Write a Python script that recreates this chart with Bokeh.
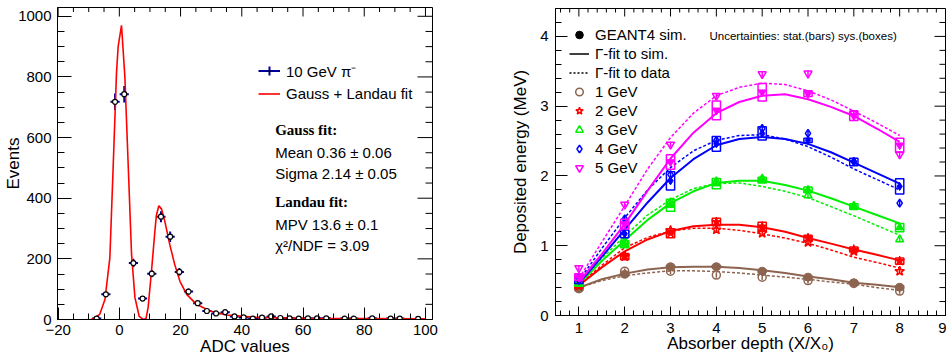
from math import pi
from bokeh.plotting import figure
from bokeh.models import Range1d, SingleIntervalTicker, Label, Legend, LegendItem
from bokeh.layouts import row, column
from bokeh.embed import file_html
from bokeh.resources import INLINE

FONT = "Liberation Sans"
SERIF = "Liberation Serif"
NAVY = "#000099"
NAN = float("nan")

# ---------------- left panel data ----------------
adc_x = [-7.4, -4.4, -1.4, 1.6, 4.6, 7.6, 10.6, 13.6, 16.6, 19.6, 22.6, 25.6, 28.6, 31.6,
         34.6, 37.6, 40.6, 43.6, 46.6, 49.6, 52.6, 55.6, 58.6, 61.6, 64.6, 67.6, 73.6,
         76.6, 82.6, 88.6, 91.6, 97.6]
adc_counts = [3, 83, 718, 743, 186, 69, 151, 339, 273, 157, 92, 54, 28, 20,
              24, 10, 7, 3, 6, 10, 5, 4, 3, 4, 4, 4, 3, 3, 4, 3, 3, 2]
adc_err = [2, 9, 27, 27, 14, 8, 12, 18, 17, 13, 10, 7, 5, 4,
           5, 3, 3, 2, 2, 3, 2, 2, 2, 2, 2, 2, 2, 2, 2, 2, 2, 1]
bin_half = 1.5
fit_x = [-9.5, -9.1, -6.4, -4.7, -3.1, -2.0, -0.93, -0.39, 0.71, 1.8, 2.9, 4.0, 5.1, 6.5,
         7.8, 8.7, 9.4, 10.5, 11.6, 12.1, 12.9, 13.8, 14.9, 16.5, 18.1, 19.8, 22.0,
         25.2, 29.6, 35.0, 44.8, 60.0, 80.0, 100.0]
fit_y = [0, 0, 17, 66, 203, 508, 813, 900, 970, 802, 508, 213, 72, 10,
         0, 3, 39, 159, 290, 344, 375, 364, 322, 246, 181, 126, 83,
         50, 28, 15, 7, 4, 3, 2]

# ---------------- right panel data ----------------
depth = [1, 2, 3, 4, 5, 6, 7, 8]
energy_labels = ["1 GeV", "2 GeV", "3 GeV", "4 GeV", "5 GeV"]
energy_colors = ["#8c6450", "#ff0000", "#00ee00", "#0000ff", "#ff00ff"]
energy_markers = ["circle", "star", "triangle", "diamond", "inverted_triangle"]

sim_1 = [0.38, 0.59, 0.70, 0.70, 0.635, 0.55, 0.47, 0.405]
sim_2 = [0.42, 0.845, 1.18, 1.34, 1.275, 1.11, 0.945, 0.78]
sim_3 = [0.45, 1.02, 1.58, 1.89, 1.94, 1.80, 1.56, 1.26]
sim_4 = [0.50, 1.17, 1.93, 2.46, 2.61, 2.51, 2.20, 1.85]
sim_5 = [0.55, 1.31, 2.20, 2.94, 3.20, 3.18, 2.86, 2.44]

data_1 = [0.42, 0.635, 0.635, 0.58, 0.55, 0.50, 0.46, 0.35]
data_2 = [0.45, 0.85, 1.22, 1.23, 1.18, 1.05, 0.92, 0.635]
data_3 = [0.48, 1.065, 1.62, 1.92, 1.96, 1.72, 1.57, 1.09]
data_4 = [0.55, 1.385, 2.02, 2.51, 2.68, 2.61, 2.21, 1.61]
data_5 = [0.68, 1.59, 2.45, 3.15, 3.46, 3.47, 2.90, 2.31]

sys_1 = [0.02, 0.02, 0.02, 0.02, 0.02, 0.02, 0.02, 0.02]
sys_2 = [0.03, 0.045, 0.065, 0.055, 0.06, 0.04, 0.035, 0.045]
sys_3 = [0.03, 0.05, 0.085, 0.075, 0.04, 0.04, 0.04, 0.06]
sys_4 = [0.04, 0.055, 0.13, 0.105, 0.095, 0.03, 0.055, 0.11]
sys_5 = [0.05, 0.07, 0.105, 0.135, 0.125, 0.04, 0.065, 0.10]

stat_sim = [0.03, 0.03, 0.03, 0.03, 0.03, 0.03, 0.03, 0.03]
stat_data = [0.04, 0.04, 0.04, 0.04, 0.04, 0.04, 0.04, 0.04]

fit_depth = [1.0, 1.5, 2.0, 2.5, 3.0, 3.5, 4.0, 4.5, 5.0, 5.5, 6.0, 6.5, 7.0, 7.5, 8.0]
fitsim_1 = [0.40, 0.52, 0.60, 0.66, 0.69, 0.70, 0.70, 0.68, 0.65, 0.61, 0.56, 0.52, 0.47, 0.44, 0.405]
fitsim_2 = [0.43, 0.69, 0.92, 1.09, 1.21, 1.28, 1.30, 1.30, 1.265, 1.20, 1.11, 1.03, 0.945, 0.87, 0.79]
fitsim_3 = [0.45, 0.78, 1.08, 1.37, 1.61, 1.78, 1.90, 1.93, 1.93, 1.87, 1.79, 1.68, 1.56, 1.44, 1.32]
fitsim_4 = [0.46, 0.84, 1.23, 1.62, 1.97, 2.24, 2.44, 2.53, 2.56, 2.53, 2.46, 2.34, 2.19, 2.04, 1.89]
fitsim_5 = [0.48, 0.88, 1.31, 1.79, 2.25, 2.62, 2.90, 3.06, 3.15, 3.17, 3.10, 2.99, 2.86, 2.68, 2.49]

fitdata_1 = [0.40, 0.50, 0.57, 0.61, 0.64, 0.64, 0.63, 0.61, 0.58, 0.55, 0.52, 0.48, 0.45, 0.40, 0.36]
fitdata_2 = [0.44, 0.72, 0.97, 1.12, 1.21, 1.25, 1.25, 1.22, 1.17, 1.11, 1.035, 0.94, 0.835, 0.76, 0.68]
fitdata_3 = [0.47, 0.82, 1.14, 1.44, 1.66, 1.82, 1.89, 1.90, 1.85, 1.78, 1.69, 1.56, 1.43, 1.29, 1.15]
fitdata_4 = [0.50, 0.96, 1.40, 1.80, 2.12, 2.36, 2.51, 2.58, 2.59, 2.53, 2.42, 2.27, 2.10, 1.95, 1.80]
fitdata_5 = [0.53, 1.05, 1.57, 2.10, 2.55, 2.90, 3.15, 3.27, 3.33, 3.31, 3.22, 3.09, 2.93, 2.76, 2.58]

sims = [sim_1, sim_2, sim_3, sim_4, sim_5]
datas = [data_1, data_2, data_3, data_4, data_5]
syss = [sys_1, sys_2, sys_3, sys_4, sys_5]
fitsims = [fitsim_1, fitsim_2, fitsim_3, fitsim_4, fitsim_5]
fitdatas = [fitdata_1, fitdata_2, fitdata_3, fitdata_4, fitdata_5]

# tick positions for the mirrored (top / right) frame ticks
left_x_major = [-20, 0, 20, 40, 60, 80, 100]
left_x_minor = [v for v in range(-20, 101, 5) if v % 20]
left_y_major = [0, 200, 400, 600, 800, 1000]
left_y_minor = [v for v in range(0, 1001, 50) if v % 200]
right_x_major = [1, 2, 3, 4, 5, 6, 7, 8, 9]
right_x_minor = [round(0.6 + 0.2 * i, 1) for i in range(43) if round(0.6 + 0.2 * i, 1) % 1]
right_y_major = [0, 1, 2, 3, 4]
right_y_minor = [round(0.2 * i, 1) for i in range(23) if round(0.2 * i, 1) % 1]


def style_axis(ax, ticker, maj, mnr, size, standoff, title, title_standoff):
    ax.ticker = ticker
    ax.major_tick_in = maj
    ax.major_tick_out = 0
    ax.minor_tick_in = mnr
    ax.minor_tick_out = 0
    ax.axis_line_color = "black"
    ax.major_tick_line_color = "black"
    ax.minor_tick_line_color = "black"
    ax.major_label_text_font = FONT
    ax.major_label_text_font_size = size
    ax.major_label_text_color = "black"
    ax.major_label_standoff = standoff
    ax.axis_label = title
    ax.axis_label_text_font = FONT
    ax.axis_label_text_font_size = "17px"
    ax.axis_label_text_font_style = "normal"
    ax.axis_label_text_color = "black"
    ax.axis_label_standoff = title_standoff


def mirror_ticks(p, xr, yr, xmaj, xmin, ymaj, ymin, top_len, right_len):
    # ticks on the top and right frame edges; half of each dash is clipped by the frame
    p.scatter(x=xmaj, y=[yr.end] * len(xmaj), marker="dash", angle=pi / 2,
              size=2 * top_len[0], line_color="black", line_width=1)
    p.scatter(x=xmin, y=[yr.end] * len(xmin), marker="dash", angle=pi / 2,
              size=2 * top_len[1], line_color="black", line_width=1)
    p.scatter(x=[xr.end] * len(ymaj), y=ymaj, marker="dash", angle=0,
              size=2 * right_len[0], line_color="black", line_width=1)
    p.scatter(x=[xr.end] * len(ymin), y=ymin, marker="dash", angle=0,
              size=2 * right_len[1], line_color="black", line_width=1)


def lab(p, text, x, y, size="15px", font=FONT, style="normal"):
    p.add_layout(Label(x=x, y=y, text=text, text_font=font, text_font_size=size,
                       text_font_style=style, text_color="black", text_align="left",
                       text_baseline="middle"))


# ================= left figure =================
xr1 = Range1d(-20.2, 102.3)
yr1 = Range1d(0, 1029)
p1 = figure(width=470, height=358, x_range=xr1, y_range=yr1,
            output_backend="svg", toolbar_location=None,
            min_border_left=57, min_border_right=38, min_border_top=7, min_border_bottom=36)
p1.grid.visible = False
p1.outline_line_color = "black"
xt1 = SingleIntervalTicker(interval=20, num_minor_ticks=4)
yt1 = SingleIntervalTicker(interval=200, num_minor_ticks=4)
style_axis(p1.xaxis[0], xt1, 12, 6, "15px", 5, "ADC values", -1)
style_axis(p1.yaxis[0], yt1, 14, 7, "15px", 6, "Events", -8)
mirror_ticks(p1, xr1, yr1, left_x_major, left_x_minor, left_y_major, left_y_minor,
             (9, 4.5), (15, 7))

p1.segment(x0=adc_x, x1=adc_x,
           y0=[c - e for c, e in zip(adc_counts, adc_err)],
           y1=[c + e for c, e in zip(adc_counts, adc_err)],
           line_color=NAVY, line_width=2)
p1.segment(x0=[x - bin_half for x in adc_x], x1=[x + bin_half for x in adc_x],
           y0=adc_counts, y1=adc_counts, line_color=NAVY, line_width=2)
fit_r = p1.line(fit_x, fit_y, line_color="#ff0000", line_width=1.6)
p1.scatter(adc_x, adc_counts, marker="circle", size=5, line_color="black",
           fill_color="white", line_width=1.2)

lg_h = p1.line(x=[NAN], y=[NAN], line_color=NAVY, line_width=2)
lg_v = p1.scatter(x=[NAN], y=[NAN], marker="cross", size=10, line_color=NAVY, line_width=2)
lg_c = p1.scatter(x=[NAN], y=[NAN], marker="dot", size=10, line_color="black",
                  fill_color="black")
leg1 = Legend(items=[LegendItem(label="10 GeV π⁻", renderers=[lg_h, lg_v, lg_c]),
                     LegendItem(label="Gauss + Landau fit", renderers=[fit_r])],
              location=(201, 214), margin=0, padding=0, spacing=0,
              glyph_width=22, glyph_height=23, label_height=23, label_standoff=6,
              label_text_font=FONT, label_text_font_size="15px", label_text_color="black",
              border_line_color=None, background_fill_alpha=0)
p1.add_layout(leg1)

lab(p1, "Gauss fit:", 50.9, 624, font=SERIF, style="bold")
lab(p1, "Mean 0.36 ± 0.06", 50.9, 552)
lab(p1, "Sigma 2.14 ± 0.05", 50.9, 480)
lab(p1, "Landau fit:", 50.9, 386, font=SERIF, style="bold")
lab(p1, "MPV 13.6 ± 0.1", 50.9, 314)
lab(p1, "χ²/NDF = 3.09", 50.9, 245)

# ================= right figure =================
xr2 = Range1d(0.49, 9.0)
yr2 = Range1d(0, 4.4)
p2 = figure(width=476, height=358, x_range=xr2, y_range=yr2,
            output_backend="svg", toolbar_location=None,
            min_border_left=85, min_border_right=1, min_border_top=8, min_border_bottom=43)
p2.grid.visible = False
p2.outline_line_color = "black"
xt2 = SingleIntervalTicker(interval=1, num_minor_ticks=5)
yt2 = SingleIntervalTicker(interval=1, num_minor_ticks=5)
style_axis(p2.xaxis[0], xt2, 9, 5, "15px", 7, "Absorber depth (X/X₀)", -2)
style_axis(p2.yaxis[0], yt2, 12, 6, "15px", 7, "Deposited energy (MeV)", 7)
mirror_ticks(p2, xr2, yr2, right_x_major, right_x_minor, right_y_major, right_y_minor,
             (8, 4), (11, 6))

open_r = []
for k in range(5):
    c = energy_colors[k]
    m = energy_markers[k]
    sz = 10 if m == "star" else 8
    p2.line(fit_depth, fitdatas[k], line_color=c, line_width=1.5, line_dash="3 2")
    p2.line(fit_depth, fitsims[k], line_color=c, line_width=2)
    p2.rect(x=depth, y=sims[k], width=0.18, height=[2 * s for s in syss[k]],
            fill_alpha=0, line_color=c, line_width=1.5)
    p2.segment(x0=depth, x1=depth, y0=[v - e for v, e in zip(sims[k], stat_sim)],
               y1=[v + e for v, e in zip(sims[k], stat_sim)], line_color=c, line_width=1.5)
    p2.segment(x0=depth, x1=depth, y0=[v - e for v, e in zip(datas[k], stat_data)],
               y1=[v + e for v, e in zip(datas[k], stat_data)], line_color=c, line_width=1.5)
    p2.scatter(depth, sims[k], marker=m, size=sz, line_color=c, fill_color=c)
    r = p2.scatter(depth, datas[k], marker=m, size=sz, line_color=c, fill_alpha=0, line_width=1.5)
    open_r.append(r)

g_c = p2.scatter(x=[NAN], y=[NAN], marker="circle", size=8, line_color="black",
                 fill_color="black")
g_solid = p2.line(x=[NAN], y=[NAN], line_color="black", line_width=1.5)
g_dot = p2.line(x=[NAN], y=[NAN], line_color="black", line_width=1.5, line_dash="2 2")
items = [LegendItem(label="GEANT4 sim.", renderers=[g_c]),
         LegendItem(label="Γ-fit to sim.", renderers=[g_solid]),
         LegendItem(label="Γ-fit to data", renderers=[g_dot])]
for k in range(5):
    items.append(LegendItem(label=energy_labels[k], renderers=[open_r[k]]))
leg2 = Legend(items=items, location=(14, 138), margin=0, padding=0, spacing=0,
              glyph_width=20, glyph_height=19, label_height=19, label_standoff=6,
              label_text_font=FONT, label_text_font_size="15px", label_text_color="black",
              border_line_color=None, background_fill_alpha=0)
p2.add_layout(leg2)

lab(p2, "Uncertainties: stat.(bars) sys.(boxes)", 3.85, 4.01, size="11.5px")

layout = row(column(p1), column(p2))
open("out.html", "w").write(file_html(layout, INLINE))
